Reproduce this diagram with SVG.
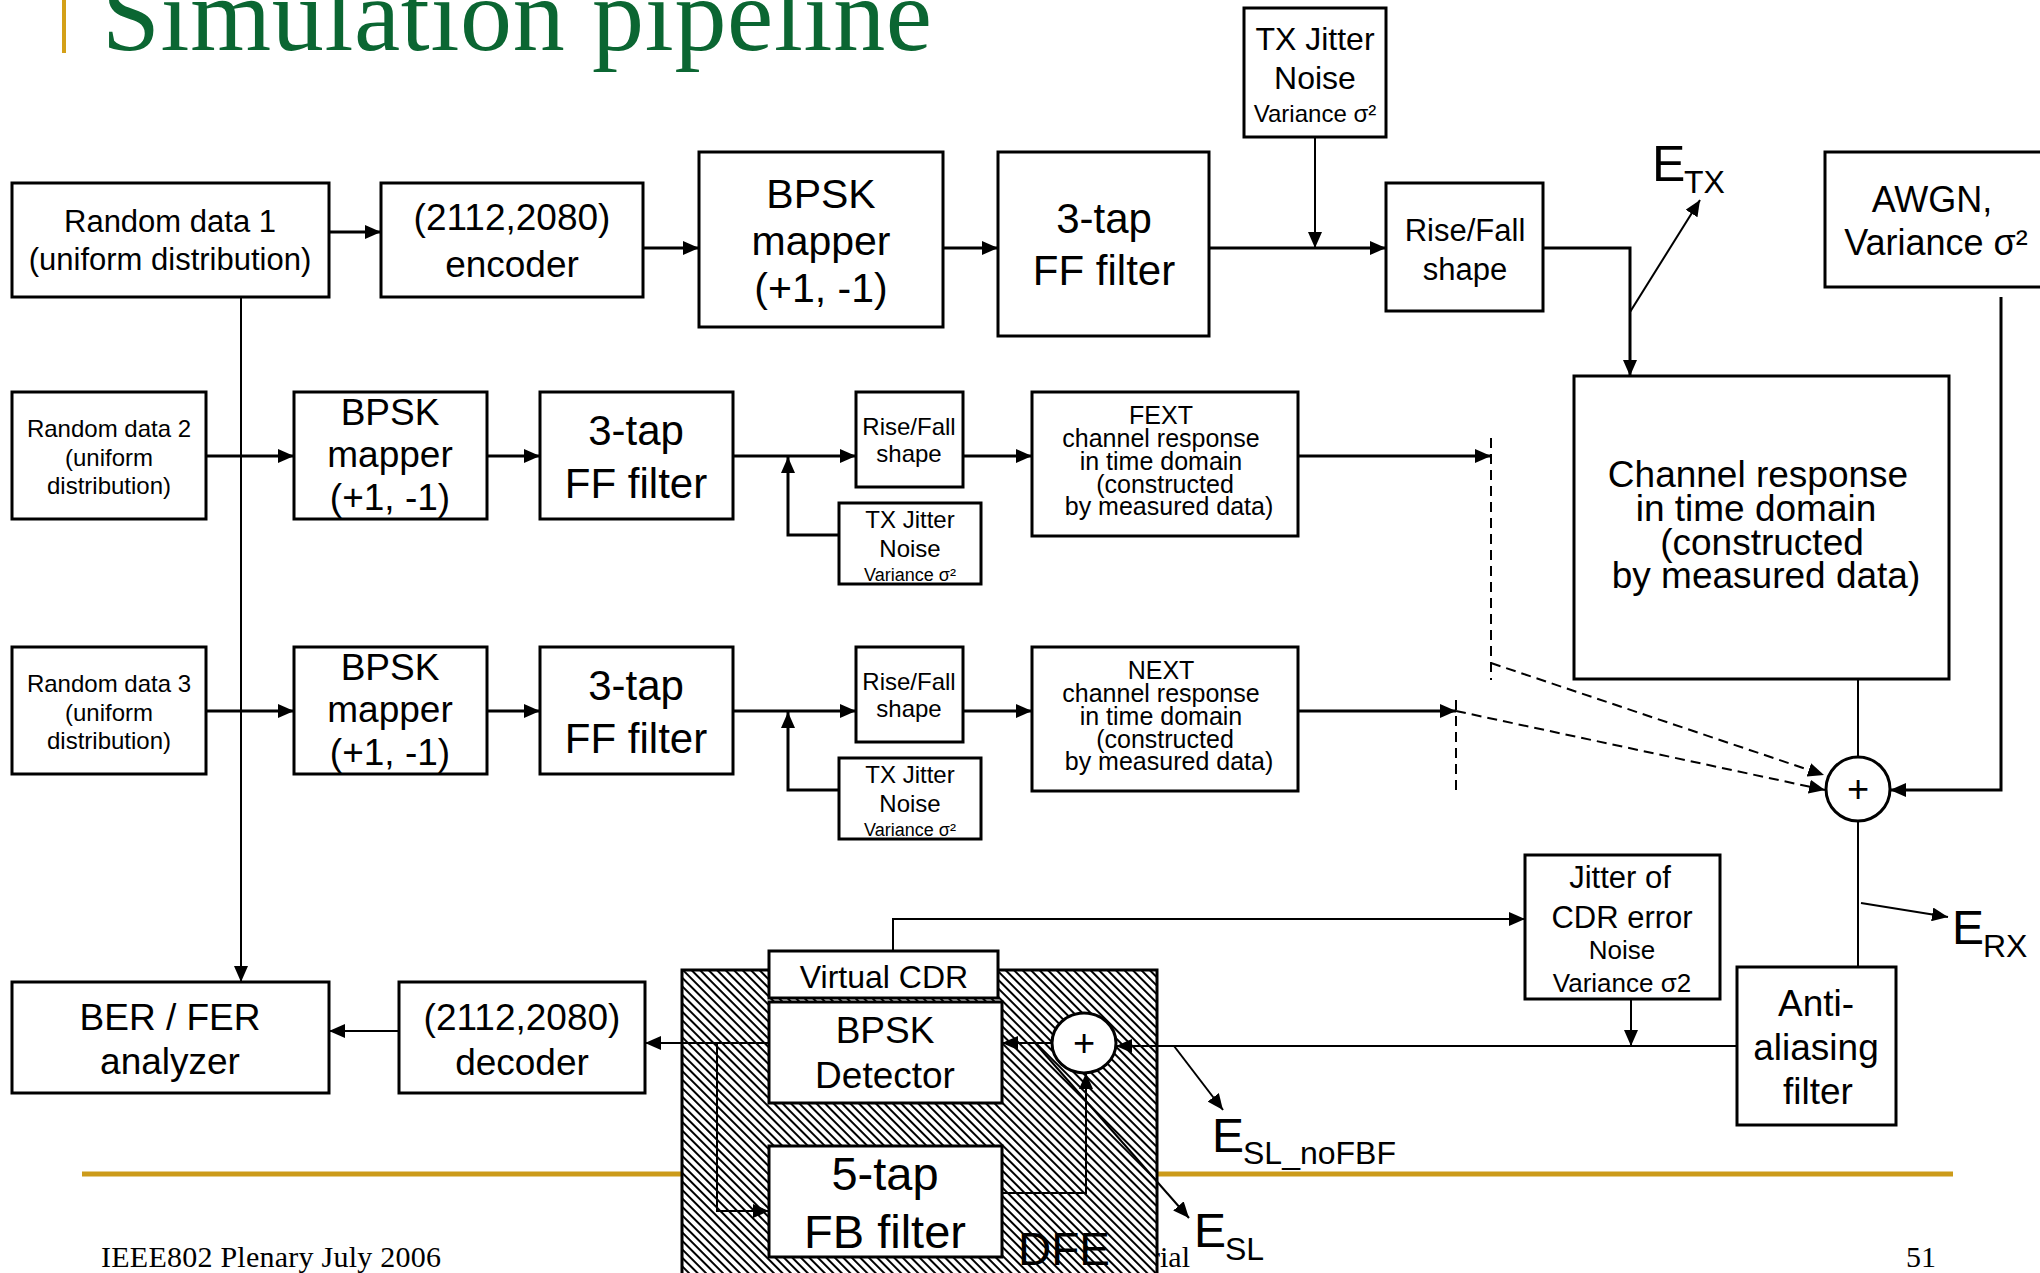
<svg xmlns="http://www.w3.org/2000/svg" width="2040" height="1273" viewBox="0 0 2040 1273">
<defs>
<style>
.box{fill:#fff;stroke:#000;stroke-width:3}
.t{font-family:"Liberation Sans",Arial,sans-serif;fill:#000;text-anchor:middle}
.ts{font-family:"Liberation Sans",Arial,sans-serif;fill:#000}
.c{fill:none;stroke:#000;stroke-width:3}
.c2{fill:none;stroke:#000;stroke-width:2}
.d{fill:none;stroke:#000;stroke-width:2;stroke-dasharray:10 6}
.serif{font-family:"Liberation Serif","Times New Roman",serif;fill:#000}
</style>
<marker id="ah" markerUnits="userSpaceOnUse" markerWidth="16" markerHeight="14" refX="16" refY="7" viewBox="0 0 16 14" orient="auto">
<path d="M0,0 L16,7 L0,14 Z" fill="#000"/>
</marker>
<pattern id="hatch" width="6" height="6" patternUnits="userSpaceOnUse" patternTransform="rotate(-45)">
<rect width="6" height="6" fill="#fff"/>
<rect width="2" height="6" fill="#000"/>
</pattern>
</defs>
<rect width="2040" height="1273" fill="#fff"/>

<!-- slide decorations -->
<rect x="62" y="0" width="4" height="53" fill="#D4A017"/>
<text x="102" y="50" font-family="Liberation Serif,'Times New Roman',serif" font-size="104" fill="#0B6632" textLength="830">Simulation pipeline</text>
<line x1="82" y1="1174" x2="1953" y2="1174" stroke="#CC9B1A" stroke-width="5"/>
<text class="serif" x="101" y="1267" font-size="30" textLength="340">IEEE802 Plenary July 2006</text>
<text class="serif" x="1150" y="1267" font-size="30">rial</text>
<text class="serif" x="1906" y="1267" font-size="30">51</text>

<!-- DFE container -->
<g id="dfe">
<rect x="682" y="970" width="475" height="310" fill="url(#hatch)" stroke="#000" stroke-width="3"/>
<text class="ts" x="1018" y="1265" font-size="46">DFE</text>
</g>

<!-- Row 1 -->
<g id="rand1"><rect class="box" x="12" y="183" width="317" height="114"/>
<text class="t" x="170" y="232" font-size="31">Random data 1</text>
<text class="t" x="170" y="270" font-size="31">(uniform distribution)</text></g>

<g id="encoder"><rect class="box" x="381" y="183" width="262" height="114"/>
<text class="t" x="512" y="230" font-size="37">(2112,2080)</text>
<text class="t" x="512" y="277" font-size="37">encoder</text></g>

<g id="bpsk1"><rect class="box" x="699" y="152" width="244" height="175"/>
<text class="t" x="821" y="208" font-size="41">BPSK</text>
<text class="t" x="821" y="255" font-size="41">mapper</text>
<text class="t" x="821" y="302" font-size="41">(+1, -1)</text></g>

<g id="ff1"><rect class="box" x="998" y="152" width="211" height="184"/>
<text class="t" x="1104" y="233" font-size="42">3-tap</text>
<text class="t" x="1104" y="285" font-size="42">FF filter</text></g>

<g id="txj1"><rect class="box" x="1244" y="8" width="142" height="129"/>
<text class="t" x="1315" y="50" font-size="32">TX Jitter</text>
<text class="t" x="1315" y="89" font-size="32">Noise</text>
<text class="t" x="1315" y="122" font-size="24">Variance σ²</text></g>

<g id="rf1"><rect class="box" x="1386" y="183" width="157" height="128"/>
<text class="t" x="1465" y="241" font-size="31">Rise/Fall</text>
<text class="t" x="1465" y="280" font-size="31">shape</text></g>

<g id="awgn"><rect class="box" x="1825" y="152" width="218" height="135"/>
<text class="t" x="1932" y="212" font-size="36">AWGN,</text>
<text class="t" x="1936" y="255" font-size="36">Variance σ²</text></g>

<g id="channel"><rect class="box" x="1574" y="376" width="375" height="303"/>
<text class="t" x="1758" y="487" font-size="37">Channel response</text>
<text class="t" x="1756" y="521" font-size="37">in time domain</text>
<text class="t" x="1762" y="555" font-size="37">(constructed</text>
<text class="t" x="1766" y="588" font-size="37">by measured data)</text></g>

<!-- Row 2 -->
<g id="rand2"><rect class="box" x="12" y="392" width="194" height="127"/>
<text class="t" x="109" y="437" font-size="24">Random data 2</text>
<text class="t" x="109" y="466" font-size="24">(uniform</text>
<text class="t" x="109" y="494" font-size="24">distribution)</text></g>

<g id="bpsk2"><rect class="box" x="294" y="392" width="193" height="127"/>
<text class="t" x="390" y="425" font-size="37">BPSK</text>
<text class="t" x="390" y="467" font-size="37">mapper</text>
<text class="t" x="390" y="510" font-size="37">(+1, -1)</text></g>

<g id="ff2"><rect class="box" x="540" y="392" width="193" height="127"/>
<text class="t" x="636" y="445" font-size="42">3-tap</text>
<text class="t" x="636" y="498" font-size="42">FF filter</text></g>

<g id="rf2"><rect class="box" x="856" y="392" width="107" height="95"/>
<text class="t" x="909" y="435" font-size="24">Rise/Fall</text>
<text class="t" x="909" y="462" font-size="24">shape</text></g>

<g id="txj2"><rect class="box" x="839" y="503" width="142" height="81"/>
<text class="t" x="910" y="528" font-size="24">TX Jitter</text>
<text class="t" x="910" y="557" font-size="24">Noise</text>
<text class="t" x="910" y="581" font-size="18">Variance σ²</text></g>

<g id="fext"><rect class="box" x="1032" y="392" width="266" height="144"/>
<text class="t" x="1161" y="424" font-size="25">FEXT</text>
<text class="t" x="1161" y="447" font-size="25">channel response</text>
<text class="t" x="1161" y="470" font-size="25">in time domain</text>
<text class="t" x="1165" y="493" font-size="25">(constructed</text>
<text class="t" x="1169" y="515" font-size="25">by measured data)</text></g>

<!-- Row 3 -->
<g id="rand3"><rect class="box" x="12" y="647" width="194" height="127"/>
<text class="t" x="109" y="692" font-size="24">Random data 3</text>
<text class="t" x="109" y="721" font-size="24">(uniform</text>
<text class="t" x="109" y="749" font-size="24">distribution)</text></g>

<g id="bpsk3"><rect class="box" x="294" y="647" width="193" height="127"/>
<text class="t" x="390" y="680" font-size="37">BPSK</text>
<text class="t" x="390" y="722" font-size="37">mapper</text>
<text class="t" x="390" y="765" font-size="37">(+1, -1)</text></g>

<g id="ff3"><rect class="box" x="540" y="647" width="193" height="127"/>
<text class="t" x="636" y="700" font-size="42">3-tap</text>
<text class="t" x="636" y="753" font-size="42">FF filter</text></g>

<g id="rf3"><rect class="box" x="856" y="647" width="107" height="95"/>
<text class="t" x="909" y="690" font-size="24">Rise/Fall</text>
<text class="t" x="909" y="717" font-size="24">shape</text></g>

<g id="txj3"><rect class="box" x="839" y="758" width="142" height="81"/>
<text class="t" x="910" y="783" font-size="24">TX Jitter</text>
<text class="t" x="910" y="812" font-size="24">Noise</text>
<text class="t" x="910" y="836" font-size="18">Variance σ²</text></g>

<g id="next"><rect class="box" x="1032" y="647" width="266" height="144"/>
<text class="t" x="1161" y="679" font-size="25">NEXT</text>
<text class="t" x="1161" y="702" font-size="25">channel response</text>
<text class="t" x="1161" y="725" font-size="25">in time domain</text>
<text class="t" x="1165" y="748" font-size="25">(constructed</text>
<text class="t" x="1169" y="770" font-size="25">by measured data)</text></g>

<!-- Receiver side -->
<g id="sum1"><circle cx="1858" cy="789" r="32" fill="#fff" stroke="#000" stroke-width="3"/>
<text class="t" x="1858" y="802" font-size="38">+</text></g>

<g id="jcdr"><rect class="box" x="1525" y="855" width="195" height="144"/>
<text class="t" x="1620" y="888" font-size="31">Jitter of</text>
<text class="t" x="1622" y="928" font-size="31">CDR error</text>
<text class="t" x="1622" y="959" font-size="26">Noise</text>
<text class="t" x="1622" y="992" font-size="26">Variance σ2</text></g>

<g id="aa"><rect class="box" x="1737" y="967" width="159" height="158"/>
<text class="t" x="1816" y="1016" font-size="37">Anti-</text>
<text class="t" x="1816" y="1060" font-size="37">aliasing</text>
<text class="t" x="1818" y="1104" font-size="37">filter</text></g>

<g id="vcdr"><rect class="box" x="769" y="951" width="229" height="47"/>
<text class="t" x="884" y="988" font-size="32">Virtual CDR</text></g>

<g id="detector"><rect class="box" x="769" y="1002" width="233" height="101"/>
<text class="t" x="885" y="1043" font-size="37">BPSK</text>
<text class="t" x="885" y="1088" font-size="37">Detector</text></g>

<g id="fbf"><rect class="box" x="769" y="1146" width="233" height="111"/>
<text class="t" x="885" y="1190" font-size="47">5-tap</text>
<text class="t" x="885" y="1248" font-size="47">FB filter</text></g>

<g id="sum2"><ellipse cx="1084" cy="1043" rx="32" ry="30" fill="#fff" stroke="#000" stroke-width="3"/>
<text class="t" x="1084" y="1056" font-size="38">+</text></g>

<g id="decoder"><rect class="box" x="399" y="982" width="246" height="111"/>
<text class="t" x="522" y="1030" font-size="37">(2112,2080)</text>
<text class="t" x="522" y="1075" font-size="37">decoder</text></g>

<g id="berfer"><rect class="box" x="12" y="982" width="317" height="111"/>
<text class="t" x="170" y="1030" font-size="37">BER / FER</text>
<text class="t" x="170" y="1074" font-size="37">analyzer</text></g>

<!-- Labels -->
<g id="etx"><text class="ts" x="1652" y="181" font-size="50">E</text><text class="ts" x="1684" y="193" font-size="32">TX</text></g>
<g id="erx"><text class="ts" x="1952" y="944" font-size="48">E</text><text class="ts" x="1983" y="957" font-size="32">RX</text></g>
<g id="eslnofbf"><text class="ts" x="1212" y="1152" font-size="48">E</text><text class="ts" x="1243" y="1164" font-size="32">SL_noFBF</text></g>
<g id="esl"><text class="ts" x="1194" y="1247" font-size="48">E</text><text class="ts" x="1225" y="1260" font-size="32">SL</text></g>

<!-- Connectors -->
<g id="connectors">
<path class="c" d="M329,232 H381" marker-end="url(#ah)"/>
<path class="c" d="M643,248 H699" marker-end="url(#ah)"/>
<path class="c" d="M943,248 H998" marker-end="url(#ah)"/>
<path class="c" d="M1209,248 H1386" marker-end="url(#ah)"/>
<path class="c2" d="M1315,137 V248" marker-end="url(#ah)"/>
<path class="c" d="M1543,248 H1630 V376" marker-end="url(#ah)"/>
<path class="c2" d="M1630,312 L1700,200" marker-end="url(#ah)"/>
<path class="c2" d="M241,297 V982" marker-end="url(#ah)"/>
<path class="c" d="M206,456 H294" marker-end="url(#ah)"/>
<path class="c" d="M487,456 H540" marker-end="url(#ah)"/>
<path class="c" d="M733,456 H856" marker-end="url(#ah)"/>
<path class="c" d="M839,535 H788 V457" marker-end="url(#ah)"/>
<path class="c" d="M963,456 H1032" marker-end="url(#ah)"/>
<path class="c" d="M1298,456 H1491" marker-end="url(#ah)"/>
<path class="c" d="M206,711 H294" marker-end="url(#ah)"/>
<path class="c" d="M487,711 H540" marker-end="url(#ah)"/>
<path class="c" d="M733,711 H856" marker-end="url(#ah)"/>
<path class="c" d="M839,790 H788 V712" marker-end="url(#ah)"/>
<path class="c" d="M963,711 H1032" marker-end="url(#ah)"/>
<path class="c" d="M1298,711 H1456" marker-end="url(#ah)"/>
<path class="d" d="M1491,438 V680"/>
<path class="d" d="M1456,700 V792"/>
<path class="d" d="M1491,663 L1824,775" marker-end="url(#ah)"/>
<path class="d" d="M1456,711 L1825,790" marker-end="url(#ah)"/>
<path class="c2" d="M1858,679 V757"/>
<path class="c" d="M2001,297 V790 H1890" marker-end="url(#ah)"/>
<path class="c2" d="M1858,821 V967"/>
<path class="c2" d="M1861,903 L1948,917" marker-end="url(#ah)"/>
<path class="c2" d="M893,951 V919 H1525" marker-end="url(#ah)"/>
<path class="c2" d="M1631,999 V1046" marker-end="url(#ah)"/>
<path class="c2" d="M1737,1046 H1116" marker-end="url(#ah)"/>
<path class="c2" d="M1052,1043 H1002" marker-end="url(#ah)"/>
<path class="c2" d="M769,1043 H645" marker-end="url(#ah)"/>
<path class="c2" d="M399,1031 H329" marker-end="url(#ah)"/>
<path class="c2" d="M717,1043 V1211 H769" marker-end="url(#ah)"/>
<path class="c2" d="M1002,1193 H1086 V1073" marker-end="url(#ah)"/>
<path class="c2" d="M1035,1043 L1189,1218" marker-end="url(#ah)"/>
<path class="c2" d="M1174,1046 L1223,1110" marker-end="url(#ah)"/>
</g>
</svg>
